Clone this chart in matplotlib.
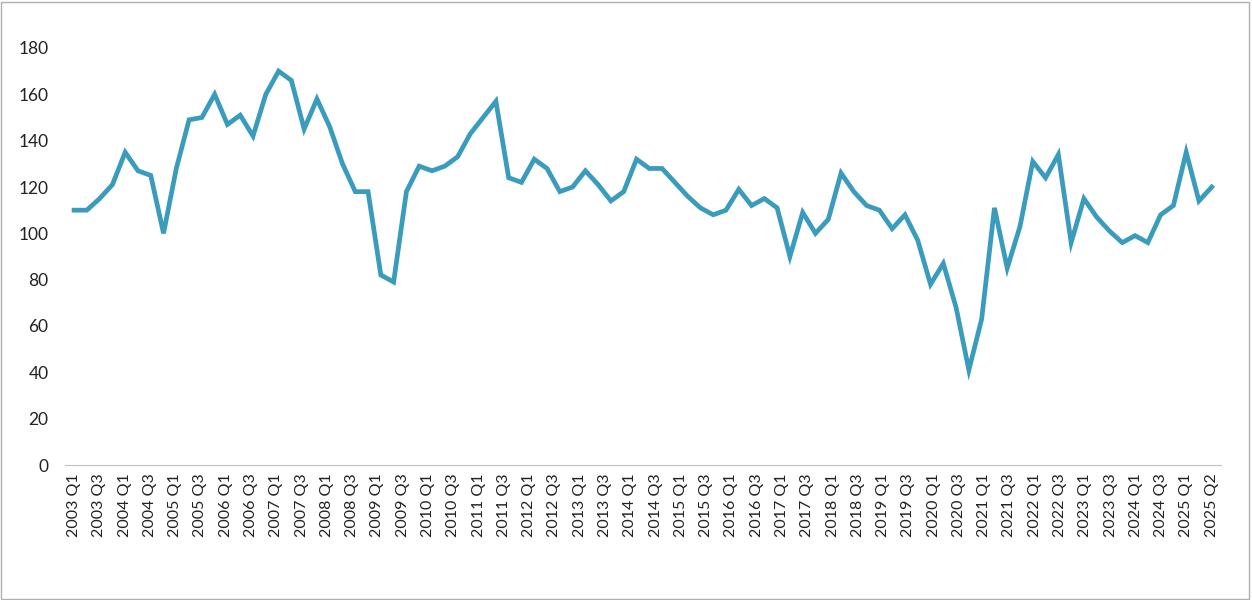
import matplotlib
matplotlib.use("Agg")
import matplotlib.pyplot as plt
from matplotlib.patches import Rectangle
import numpy as np

years = list(range(2003, 2026))
quarters = [f"{y} Q{q}" for y in years for q in range(1, 5)][:90]
values = [110, 110, 115, 121,
          135, 127, 125, 100,
          128, 149, 150, 160,
          147, 151, 142, 160,
          170, 166, 145, 158,
          146, 130, 118, 118,
          82, 79, 118, 129,
          127, 129, 133, 143,
          150, 157, 124, 122,
          132, 128, 118, 120,
          127, 121, 114, 118,
          132, 128, 128, 122,
          116, 111, 108, 110,
          119, 112, 115, 111,
          90, 109, 100, 106,
          126, 118, 112, 110,
          102, 108, 97, 78,
          87, 68, 41, 63,
          111, 85, 103, 131,
          124, 134, 96, 115,
          107, 101, 96, 99,
          96, 108, 112, 135,
          114, 120]
yticks = list(range(0, 181, 20))
tick_labels = [q for q in quarters if q.endswith('Q1') or q.endswith('Q3')] + [quarters[-1]]

plt.rcParams['font.family'] = ['Lato', 'DejaVu Sans']
fig = plt.figure(figsize=(12.52, 6.0), dpi=100)
ax = fig.add_axes([0.052, 0.225, 0.923, 0.695])
x = list(range(len(values)))
ax.plot(x, values, color='#3a9cbc', lw=3.4, solid_joinstyle='miter')
ax.set_ylim(0, 180)
ax.set_xlim(-0.7, len(values) - 0.3)
ax.set_yticks(yticks)
ax.set_xticks(np.linspace(0, len(values) - 1, len(tick_labels)))
ax.set_xticklabels(tick_labels, rotation=90, fontsize=11.5, color='#222222')
ax.tick_params(axis='y', labelsize=12.5, length=0, labelcolor='#222222', pad=12)
ax.tick_params(axis='x', length=0, pad=6)
for s in ['top', 'right', 'left']:
    ax.spines[s].set_visible(False)
ax.spines['bottom'].set_color('#bfbfbf')
fig.patches.append(Rectangle((0.001, 0.002), 0.997, 0.995, transform=fig.transFigure,
                             fill=False, edgecolor='#b0b0b0', lw=1))
fig.savefig('out.png', dpi=100)
